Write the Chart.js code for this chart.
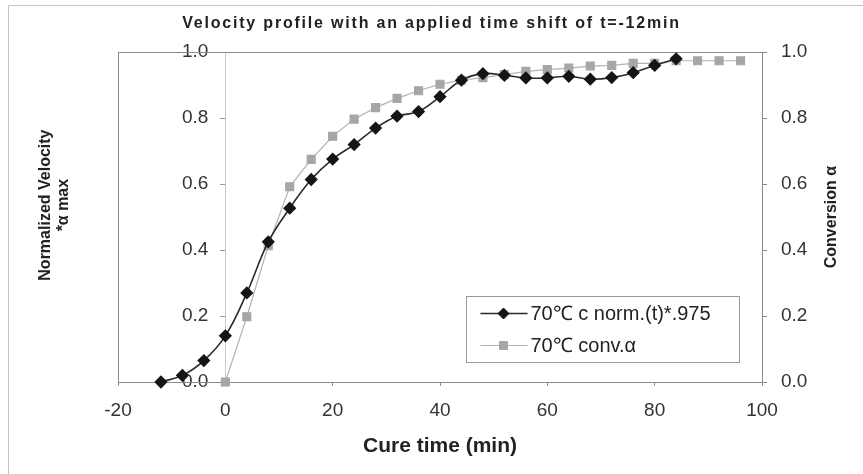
<!DOCTYPE html>
<html>
<head>
<meta charset="utf-8">
<title>Velocity profile with an applied time shift</title>
<script src="https://cdn.jsdelivr.net/npm/chart.js@4.4.1/dist/chart.umd.min.js"></script>
<style>
  html, body { margin: 0; padding: 0; background: #fff; }
  #wrap { width: 863px; height: 474px; position: relative; }
</style>
</head>
<body>
<div id="wrap"><canvas id="chart"></canvas></div>
<script>
// velocity curve (black diamonds), shifted by -12 min
const velTime = [-12, -8, -4, 0, 4, 8, 12, 16, 20, 24, 28, 32, 36, 40, 44, 48, 52, 56, 60, 64, 68, 72, 76, 80, 84];
const velValues = [0, 0.02, 0.065, 0.14, 0.27, 0.425, 0.527, 0.614, 0.676, 0.72, 0.77, 0.806, 0.82, 0.865,
  0.915, 0.935, 0.93, 0.922, 0.922, 0.927, 0.918, 0.923, 0.938, 0.96, 0.98];

// conversion alpha (grey squares)
const convTime = [0, 4, 8, 12, 16, 20, 24, 28, 32, 36, 40, 44, 48, 52, 56, 60, 64, 68, 72, 76, 80, 84, 88, 92, 96];
const convValues = [0, 0.198, 0.413, 0.592, 0.675, 0.745, 0.797, 0.832, 0.86, 0.883, 0.903, 0.915, 0.923,
  0.932, 0.942, 0.947, 0.952, 0.958, 0.96, 0.966, 0.966, 0.974, 0.974, 0.974, 0.974];

const seriesLabels = ['70\u2103 c norm.(t)*.975', '70\u2103 conv.\u03b1'];
const xTicks = { min: -20, max: 100, step: 20 };
const yTicks = { min: 0, max: 1, step: 0.2 };

const FONT = "'Liberation Sans', Arial, sans-serif";
Chart.defaults.font.family = FONT;
Chart.defaults.color = '#333';

// stretch the title a little like the original, keep the left axis
// labels (axis crosses at x=0) clear of the axis line, lift the left title
const tweaks = {
  id: 'tweaks',
  beforeDraw(chart) {
    const tb = chart.titleBlock;
    if (tb && !tb._spaced) {
      const orig = tb.draw.bind(tb);
      tb.draw = function () {
        this.ctx.save();
        this.ctx.letterSpacing = '1.8px';
        orig();
        this.ctx.restore();
      };
      tb._spaced = true;
    }
    const s = chart.scales.y;
    if (s && !s._shifted) {
      const origLabels = s.drawLabels.bind(s);
      s.drawLabels = function (area) {
        this.ctx.save();
        this.ctx.translate(-17, 0);
        origLabels(area);
        this.ctx.restore();
      };
      s._shifted = true;
    }
    const t = chart.scales.yTitle;
    if (t && !t._lifted) {
      const origTitle = t.drawTitle.bind(t);
      t.drawTitle = function () {
        this.ctx.save();
        this.ctx.translate(0, -12);
        origTitle();
        this.ctx.restore();
      };
      t._lifted = true;
    }
  }
};

// outer border, plot frame
const frame = {
  id: 'frame',
  beforeDraw(chart) {
    const ctx = chart.ctx;
    ctx.save();
    ctx.strokeStyle = '#c4c4c4';
    ctx.lineWidth = 1;
    ctx.beginPath();
    ctx.moveTo(8.5, chart.height);
    ctx.lineTo(8.5, 5.5);
    ctx.lineTo(chart.width, 5.5);
    ctx.stroke();
    ctx.restore();
  },
  beforeDatasetsDraw(chart) {
    const a = chart.chartArea;
    const ctx = chart.ctx;
    ctx.save();
    ctx.strokeStyle = '#8a8a8a';
    ctx.lineWidth = 1;
    ctx.strokeRect(Math.round(a.left) + 0.5, Math.round(a.top) + 0.5,
      Math.round(a.right - a.left), Math.round(a.bottom - a.top));
    ctx.restore();
  }
};

// right axis title reads bottom-to-top, and the boxed legend inside the plot
const extras = {
  id: 'extras',
  afterDraw(chart) {
    const ctx = chart.ctx;
    const a = chart.chartArea;
    const y2 = chart.scales.y2;

    ctx.save();
    ctx.translate(y2.right - 31, (a.top + a.bottom) / 2);
    ctx.rotate(-Math.PI / 2);
    ctx.textAlign = 'center';
    ctx.textBaseline = 'middle';
    ctx.fillStyle = '#222';
    ctx.font = 'bold 16px ' + FONT;
    ctx.fillText('Conversion \u03b1', 0, 0);
    ctx.restore();

    const bx = Math.round(a.right - 296) + 0.5;
    const by = Math.round(a.bottom - 86) + 0.5;
    ctx.save();
    ctx.fillStyle = '#fff';
    ctx.fillRect(bx, by, 273, 66);
    ctx.strokeStyle = '#9a9a9a';
    ctx.lineWidth = 1;
    ctx.strokeRect(bx, by, 273, 66);
    chart.data.datasets.forEach((ds, i) => {
      const y = by + 17 + i * 32;
      ctx.strokeStyle = ds.borderColor;
      ctx.lineWidth = ds.borderWidth;
      ctx.beginPath();
      ctx.moveTo(bx + 14, y);
      ctx.lineTo(bx + 61, y);
      ctx.stroke();
      ctx.fillStyle = ds.pointBackgroundColor;
      ctx.strokeStyle = ds.pointBorderColor;
      ctx.lineWidth = 1;
      Chart.helpers.drawPoint(ctx, { pointStyle: ds.pointStyle, radius: ds.pointRadius, rotation: 0, borderWidth: 1 }, bx + 37, y);
      ctx.fillStyle = '#222';
      ctx.font = '20px ' + FONT;
      ctx.textAlign = 'left';
      ctx.textBaseline = 'middle';
      ctx.fillText(ds.label, bx + 64, y + 1);
    });
    ctx.restore();
  }
};

const ctx = document.getElementById('chart').getContext('2d');
new Chart(ctx, {
  type: 'line',
  data: {
    datasets: [
      {
        label: seriesLabels[0],
        data: velTime.map((t, i) => ({ x: t, y: velValues[i] })),
        yAxisID: 'y',
        borderColor: '#2a2a2a',
        borderWidth: 1.6,
        tension: 0.4,
        pointStyle: 'rectRot',
        pointRadius: 5.5,
        pointBackgroundColor: '#151515',
        pointBorderColor: '#151515',
        clip: false
      },
      {
        label: seriesLabels[1],
        data: convTime.map((t, i) => ({ x: t, y: convValues[i] })),
        yAxisID: 'y2',
        borderColor: '#b4b4b4',
        borderWidth: 1.2,
        tension: 0,
        pointStyle: 'rect',
        pointRadius: 5.6,
        pointBackgroundColor: '#a6a6a6',
        pointBorderColor: '#a6a6a6',
        clip: false
      }
    ]
  },
  options: {
    responsive: true,
    maintainAspectRatio: false,
    animation: false,
    layout: { padding: 0 },
    plugins: {
      legend: { display: false },
      tooltip: { enabled: false },
      title: {
        display: true,
        text: 'Velocity profile with an applied time shift of t=-12min',
        color: '#222',
        font: { size: 16, weight: 'bold' },
        padding: { top: 14, bottom: 19 }
      }
    },
    scales: {
      x: {
        type: 'linear',
        min: xTicks.min,
        max: xTicks.max,
        ticks: { stepSize: xTicks.step, font: { size: 19 }, color: '#333', padding: 13 },
        grid: { drawOnChartArea: false, tickLength: 4, color: '#8a8a8a' },
        border: { color: '#8a8a8a' },
        title: {
          display: true,
          text: 'Cure time (min)',
          color: '#222',
          font: { size: 21, weight: 'bold' },
          padding: { top: 10, bottom: 15 }
        },
        afterFit(s) { s.height = 92; }
      },
      yTitle: {
        position: 'left',
        min: 0,
        max: 1,
        ticks: { display: false },
        grid: { display: false },
        border: { display: false },
        title: {
          display: true,
          text: ['Normalized Velocity', '*\u03b1 max'],
          color: '#222',
          font: { size: 16, weight: 'bold', lineHeight: 1.15 },
          padding: { top: 36, bottom: 0 }
        },
        afterFit(s) { s.width = 118; }
      },
      y: {
        position: { x: 0 },
        min: yTicks.min,
        max: yTicks.max,
        ticks: { stepSize: yTicks.step, callback: v => v.toFixed(1), font: { size: 19 }, color: '#333', padding: 12 },
        grid: { drawOnChartArea: false, tickLength: 5, color: '#999' },
        border: { color: '#c8c8c8' }
      },
      y2: {
        position: 'right',
        min: yTicks.min,
        max: yTicks.max,
        ticks: { stepSize: yTicks.step, callback: v => v.toFixed(1), font: { size: 19 }, color: '#333', padding: 14 },
        grid: { drawOnChartArea: false, tickLength: 5, color: '#8a8a8a' },
        border: { color: '#8a8a8a' },
        afterFit(s) { s.width = 101; }
      }
    }
  },
  plugins: [tweaks, frame, extras]
});
</script>
</body>
</html>
